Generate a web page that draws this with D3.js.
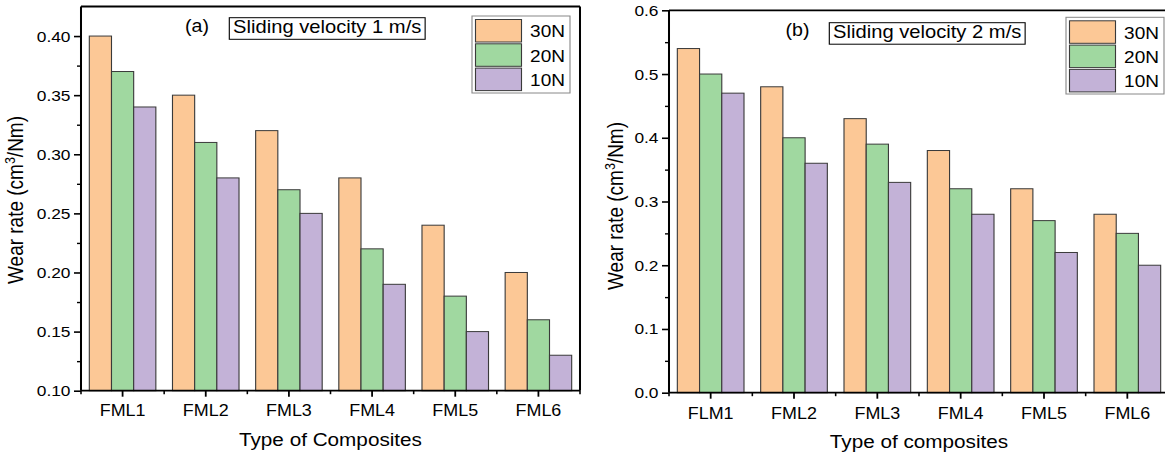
<!DOCTYPE html>
<html><head><meta charset="utf-8">
<script src="https://cdn.jsdelivr.net/npm/d3@7"></script>
<style>
body{margin:0;background:#fff}
svg{display:block}
text{font-family:'Liberation Sans',Arial,Helvetica,sans-serif;fill:#000}
</style>
</head><body>
<svg id="c" width="1165" height="456"></svg>
<script>
// ---- data ----
const categoriesA = ["FML1","FML2","FML3","FML4","FML5","FML6"];
const categoriesB = ["FLM1","FML2","FML3","FML4","FML5","FML6"];
const seriesNames = ["30N","20N","10N"];
const valuesA30 = [0.40,0.35,0.32,0.28,0.24,0.20];
const valuesA20 = [0.37,0.31,0.27,0.22,0.18,0.16];
const valuesA10 = [0.34,0.28,0.25,0.19,0.15,0.13];
const valuesB30 = [0.54,0.48,0.43,0.38,0.32,0.28];
const valuesB20 = [0.50,0.40,0.39,0.32,0.27,0.25];
const valuesB10 = [0.47,0.36,0.33,0.28,0.22,0.20];
const yTicksA = [0.10,0.15,0.20,0.25,0.30,0.35,0.40];
const yMinorA = [0.125,0.175,0.225,0.275,0.325,0.375];
const yTicksB = [0.0,0.1,0.2,0.3,0.4,0.5,0.6];
const yMinorB = [0.05,0.15,0.25,0.35,0.45,0.55];
const colors = ["#FCC896","#A0D8A0","#C3B2D7"];

// horizontal stretch of the original picture
const SX = 1.12;
const X = px => px / SX;

const svg = d3.select("#c");
const root = svg.append("g").attr("transform", `scale(${SX},1)`);

function panel(cfg) {
  const g = root.append("g");
  const y = d3.scaleLinear().domain(cfg.domain).range([cfg.yBot, cfg.yTop]);
  const x = d3.scaleBand().domain(cfg.cats).range([X(cfg.x0), X(cfg.x1)])
    .paddingInner(0.2).paddingOuter(0.1);
  const xs = d3.scaleBand().domain(seriesNames).range([0, x.bandwidth()]);
  const series = [cfg.v30, cfg.v20, cfg.v10];

  // bars
  series.forEach((vals, si) => {
    g.append("g").selectAll("rect").data(vals).join("rect")
      .attr("x", (d, i) => x(cfg.cats[i]) + xs(seriesNames[si]))
      .attr("width", xs.bandwidth())
      .attr("y", d => y(d))
      .attr("height", d => y(cfg.domain[0]) - y(d))
      .attr("fill", colors[si])
      .attr("stroke", "#3a3a3a")
      .attr("stroke-width", 1);
  });

  // y axis major
  const ya = g.append("g").attr("transform", `translate(${X(cfg.x0)},0)`)
    .call(d3.axisLeft(y).tickValues(cfg.ticks).tickFormat(d3.format(cfg.fmt))
      .tickSize(7 / SX).tickPadding(3.5 / SX));
  ya.select(".domain").remove();
  ya.selectAll("line").attr("stroke", "#000").attr("stroke-width", 1.6);
  ya.selectAll("text").attr("font-size", 15.5).attr("font-family", "'Liberation Sans',Arial,sans-serif");
  // y axis minor
  const ym = g.append("g").attr("transform", `translate(${X(cfg.x0)},0)`)
    .call(d3.axisLeft(y).tickValues(cfg.minor).tickFormat("").tickSize(4 / SX));
  ym.select(".domain").remove();
  ym.selectAll("line").attr("stroke", "#000").attr("stroke-width", 1.4);

  // x axis major
  const xa = g.append("g").attr("transform", `translate(0,${cfg.yBot})`)
    .call(d3.axisBottom(x).tickSize(6).tickSizeOuter(0));
  xa.select(".domain").remove();
  xa.selectAll("line").attr("stroke", "#000").attr("stroke-width", 1.6);
  xa.selectAll("text").attr("font-size", 16).attr("dy", 0).attr("y", cfg.xTickBase - cfg.yBot)
    .attr("font-family", "'Liberation Sans',Arial,sans-serif");
  // x minor ticks at category boundaries
  const bounds = d3.range(cfg.cats.length + 1).map(i => x.range()[0] + i * x.step());
  g.append("g").selectAll("line").data(bounds).join("line")
    .attr("x1", d => d).attr("x2", d => d)
    .attr("y1", cfg.yBot).attr("y2", cfg.yBot + 3.5)
    .attr("stroke", "#000").attr("stroke-width", 1.4);

  // frame
  const fr = g.append("g").attr("stroke", "#000").attr("fill", "none");
  fr.append("line").attr("x1", X(cfg.x0)).attr("x2", X(cfg.x0)).attr("y1", cfg.yTop).attr("y2", cfg.yBot).attr("stroke-width", 1.8);
  fr.append("line").attr("x1", X(cfg.x0)).attr("x2", X(cfg.x1)).attr("y1", cfg.yBot).attr("y2", cfg.yBot).attr("stroke-width", 1.8);
  fr.append("line").attr("x1", X(cfg.x0)).attr("x2", X(cfg.x1)).attr("y1", cfg.yTop).attr("y2", cfg.yTop).attr("stroke-width", 1.8);
  fr.append("line").attr("x1", X(cfg.x1)).attr("x2", X(cfg.x1)).attr("y1", cfg.yTop).attr("y2", cfg.yBot).attr("stroke-width", 1.8);

  // axis titles
  g.append("text").attr("x", X((cfg.x0 + cfg.x1) / 2)).attr("y", cfg.xTitleBase)
    .attr("text-anchor", "middle").attr("font-size", 18.5).text(cfg.xTitle);
  const yt = g.append("text")
    .attr("transform", `translate(${X(cfg.yTitleX)},${cfg.yTitleY}) rotate(-90)`)
    .attr("text-anchor", "middle").attr("font-size", 19);
  yt.append("tspan").text("Wear rate (cm");
  yt.append("tspan").attr("font-size", 12.5).attr("dy", -7).text("3");
  yt.append("tspan").attr("dy", 7).text("/Nm)");

  // panel label + annotation box
  g.append("text").attr("x", X(cfg.labX)).attr("y", cfg.labBase)
    .attr("text-anchor", "middle").attr("font-size", 17.5).text(cfg.label);
  const bg = g.append("g");
  const br = bg.append("rect");
  const bt = bg.append("text").attr("x", X(cfg.boxX0 + 3.8)).attr("y", cfg.boxBase)
    .attr("font-size", 18).text(cfg.annot);
  const tl = bt.node().getComputedTextLength();
  br.attr("x", X(cfg.boxX0)).attr("y", cfg.boxY0)
    .attr("width", tl + X(7.6)).attr("height", cfg.boxH)
    .attr("fill", "#fff").attr("stroke", "#000").attr("stroke-width", 1);

  // legend
  const lg = g.append("g");
  lg.append("rect").attr("x", X(cfg.legX0)).attr("y", cfg.legY0)
    .attr("width", X(cfg.legX1 - cfg.legX0)).attr("height", cfg.legY1 - cfg.legY0)
    .attr("fill", "#fff").attr("stroke", "#888").attr("stroke-width", 1);
  seriesNames.forEach((s, i) => {
    const top = cfg.legRowY + i * 24.3;
    lg.append("rect").attr("x", X(cfg.legX0 + 3.5)).attr("y", top)
      .attr("width", X(46)).attr("height", 22.5)
      .attr("fill", colors[i]).attr("stroke", "#3a3a3a").attr("stroke-width", 1);
    lg.append("text").attr("x", X(cfg.legX1 - 5)).attr("y", top + 17.8)
      .attr("text-anchor", "end").attr("font-size", 17).text(s);
  });
}

panel({
  x0: 81, x1: 580, yTop: 6.5, yBot: 390.7, domain: [0.10, 0.425],
  ticks: yTicksA, minor: yMinorA, fmt: ".2f",
  cats: categoriesA, v30: valuesA30, v20: valuesA20, v10: valuesA10,
  xTickBase: 416, xTitle: "Type of Composites", xTitleBase: 446,
  yTitleX: 22.5, yTitleY: 200,
  label: "(a)", labX: 197, labBase: 32.5,
  annot: "Sliding velocity 1 m/s", boxX0: 229.3, boxY0: 17.7, boxH: 21.6, boxBase: 33.5,
  legX0: 472, legX1: 570, legY0: 16, legY1: 93, legRowY: 19.5
});

panel({
  x0: 669, x1: 1169, yTop: 10.3, yBot: 392.7, domain: [0, 0.6],
  ticks: yTicksB, minor: yMinorB, fmt: ".1f",
  cats: categoriesB, v30: valuesB30, v20: valuesB20, v10: valuesB10,
  xTickBase: 419, xTitle: "Type of composites", xTitleBase: 448,
  yTitleX: 623, yTitleY: 206,
  label: "(b)", labX: 797.5, labBase: 36.5,
  annot: "Sliding velocity 2 m/s", boxX0: 829.3, boxY0: 22.7, boxH: 21.5, boxBase: 38.5,
  legX0: 1066, legX1: 1164, legY0: 17.3, legY1: 94, legRowY: 20.8
});
</script>
</body></html>
